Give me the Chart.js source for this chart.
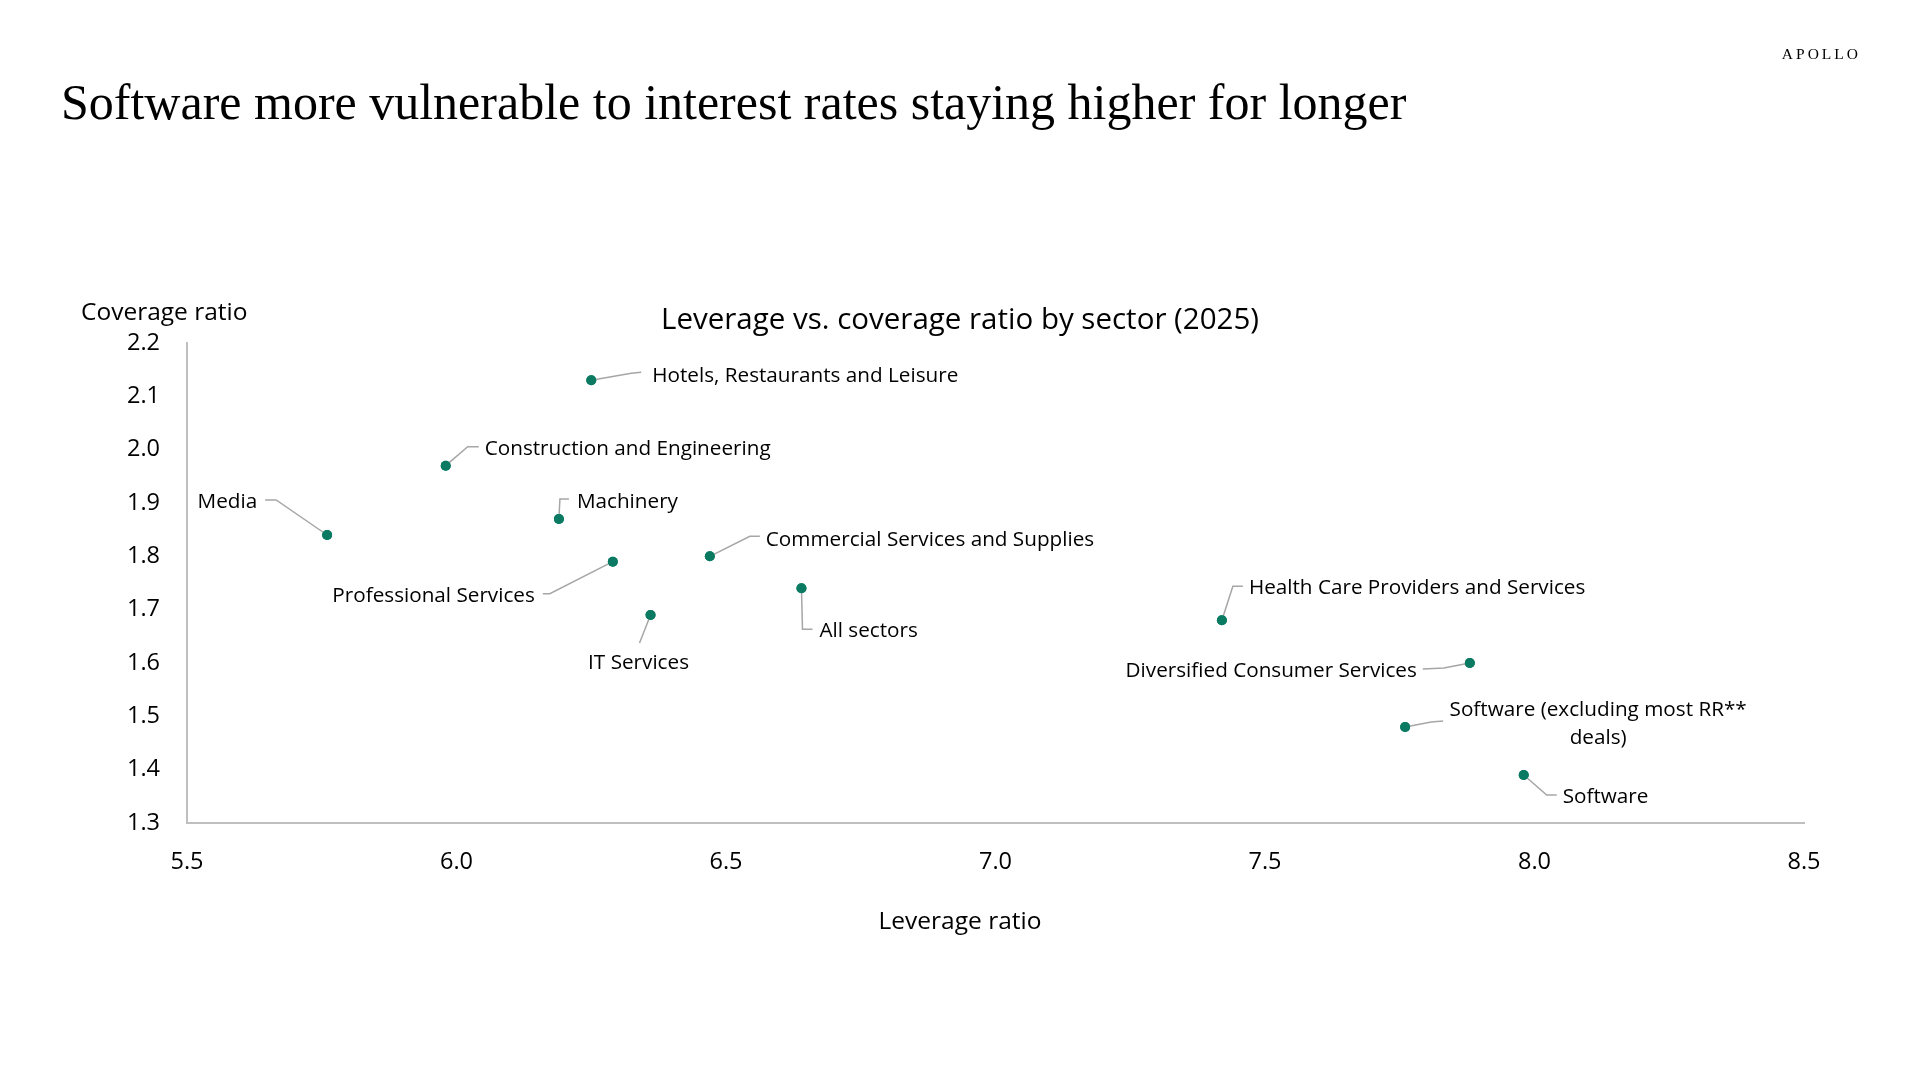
<!DOCTYPE html>
<html>
<head>
<meta charset="utf-8">
<script src="https://cdn.jsdelivr.net/npm/chart.js@4.4.1/dist/chart.umd.min.js"></script>
<style>
  html, body { margin: 0; padding: 0; background: #fff; }
  #wrap { position: relative; width: 1920px; height: 1080px; overflow: hidden; }
  #chart { position: absolute; left: 0; top: 0; }
  .txt { position: absolute; line-height: 1; white-space: nowrap; color: #000; transform: translateY(-50%); }
  #title { left: 61px; top: 102px; font-family: "Liberation Serif", serif; font-size: 50px; }
  #logo { right: 59px; top: 54px; font-family: "Liberation Serif", serif; font-size: 15.5px; letter-spacing: 3px; }
  #subtitle { left: 960px; top: 318px; transform: translate(-50%, -50%); font-family: "Open Sans", sans-serif; font-size: 29.5px; }
  #ytitle { left: 81px; top: 311px; font-family: "Open Sans", sans-serif; font-size: 24.5px; }
  #xtitle { left: 960px; top: 920px; transform: translate(-50%, -50%); font-family: "Open Sans", sans-serif; font-size: 24.5px; }
</style>
</head>
<body>
<div id="wrap">
  <canvas id="chart" width="1920" height="1080"></canvas>
  <div class="txt" id="title">Software more vulnerable to interest rates staying higher for longer</div>
  <div class="txt" id="logo">APOLLO</div>
  <div class="txt" id="subtitle">Leverage vs. coverage ratio by sector (2025)</div>
  <div class="txt" id="ytitle">Coverage ratio</div>
  <div class="txt" id="xtitle">Leverage ratio</div>
</div>
<script>
// datos
var sectores = [
  "Hotels, Restaurants and Leisure",
  "Construction and Engineering",
  "Machinery",
  "Media",
  "Commercial Services and Supplies",
  "Professional Services",
  "IT Services",
  "All sectors",
  "Health Care Providers and Services",
  "Diversified Consumer Services",
  "Software (excluding most RR**|deals)",
  "Software",
];
var apalancamiento = [6.25, 5.98, 6.19, 5.76, 6.47, 6.29, 6.36, 6.64, 7.42, 7.88, 7.76, 7.98];
var cobertura = [2.13, 1.97, 1.87, 1.84, 1.80, 1.79, 1.69, 1.74, 1.68, 1.60, 1.48, 1.39];

// posicion de cada etiqueta respecto al punto (px)
var etiquetas = [
  { codo: [40, -7], fin: [50, -8], texto: [61, -4], alinear: "left" },
  { codo: [22, -19], fin: [33, -19], texto: [39, -17], alinear: "left" },
  { codo: [1, -20], fin: [10, -20], texto: [18, -17], alinear: "left" },
  { codo: [-51, -35], fin: [-62, -35], texto: [-70, -33], alinear: "right" },
  { codo: [40, -20], fin: [50, -20], texto: [56, -16], alinear: "left" },
  { codo: [-63, 32], fin: [-70, 32], texto: [-78, 34], alinear: "right" },
  { codo: [-11, 28], fin: [-11, 28], texto: [-12, 48], alinear: "center" },
  { codo: [1, 41], fin: [11, 41], texto: [18, 43], alinear: "left" },
  { codo: [11, -34], fin: [21, -34], texto: [27, -32], alinear: "left" },
  { codo: [-26, 5], fin: [-47, 6], texto: [-53, 8], alinear: "right" },
  { codo: [26, -5], fin: [38, -6], texto: [193, -17], alinear: "center" },
  { codo: [23, 20], fin: [33, 20], texto: [39, 22], alinear: "left" },
];

var puntos = apalancamiento.map(function (x, i) {
  return { x: x, y: cobertura[i] };
});

var pluginEtiquetas = {
  id: "etiquetas",
  afterDatasetsDraw: function (chart) {
    var ctx = chart.ctx;
    var meta = chart.getDatasetMeta(0);
    ctx.save();
    meta.data.forEach(function (p, i) {
      var e = etiquetas[i];
      ctx.strokeStyle = "#a6a6a6";
      ctx.lineWidth = 1.5;
      ctx.beginPath();
      ctx.moveTo(p.x, p.y);
      ctx.lineTo(p.x + e.codo[0], p.y + e.codo[1]);
      ctx.lineTo(p.x + e.fin[0], p.y + e.fin[1]);
      ctx.stroke();

      ctx.fillStyle = "#000";
      ctx.font = '20.7px "Open Sans"';
      ctx.textAlign = e.alinear;
      ctx.textBaseline = "middle";
      var lineas = sectores[i].split("|");
      lineas.forEach(function (l, j) {
        ctx.fillText(l, p.x + e.texto[0], p.y + e.texto[1] + j * 28);
      });
    });
    ctx.restore();
    // redibujar puntos encima de las lineas
    meta.data.forEach(function (p) {
      p.draw(ctx, chart.chartArea);
    });
  },
};

var ctx = document.getElementById("chart").getContext("2d");
var myChart = new Chart(ctx, {
  type: "scatter",
  data: {
    datasets: [
      {
        data: puntos,
        backgroundColor: "#0b7a62",
        borderWidth: 0,
        pointRadius: 5,
        pointHoverRadius: 5,
      },
    ],
  },
  options: {
    responsive: false,
    animation: false,
    layout: {
      padding: { left: 87, right: 116, top: 343, bottom: 187 },
    },
    scales: {
      x: {
        min: 5.5,
        max: 8.5,
        ticks: {
          stepSize: 0.5,
          padding: 25,
          color: "#000",
          font: { family: "Open Sans", size: 23.5 },
          callback: function (v) { return Number(v).toFixed(1); },
        },
        grid: { display: false, drawTicks: false },
        border: { color: "#bfbfbf", width: 2 },
        afterFit: function (s) { s.height = 70; },
      },
      y: {
        min: 1.3,
        max: 2.2,
        ticks: {
          stepSize: 0.1,
          padding: 27,
          color: "#000",
          font: { family: "Open Sans", size: 23.5 },
          callback: function (v) { return Number(v).toFixed(1); },
        },
        grid: { display: false, drawTicks: false },
        border: { color: "#bfbfbf", width: 2 },
        afterFit: function (s) { s.width = 100; },
      },
    },
    plugins: {
      legend: { display: false },
      tooltip: { enabled: false },
    },
  },
  plugins: [pluginEtiquetas],
});
</script>
</body>
</html>
